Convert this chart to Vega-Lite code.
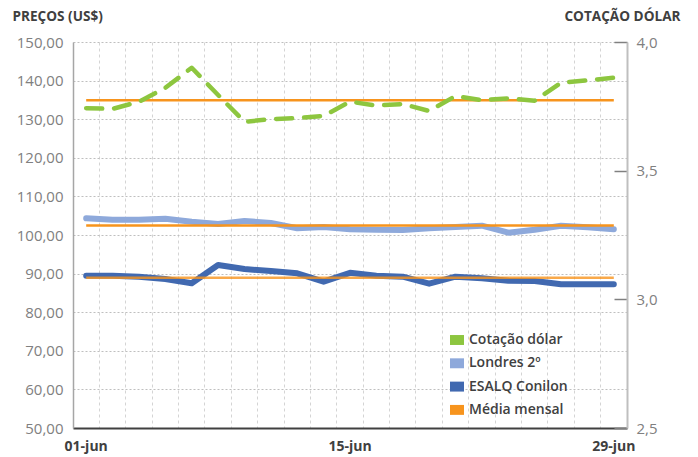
{
  "$schema": "https://vega.github.io/schema/vega-lite/v6.json",
  "width": 554,
  "height": 386,
  "autosize": "none",
  "padding": {"left": 73, "top": 42, "right": 71, "bottom": 29},
  "background": "white",
  "config": {"font": "Open Sans", "view": {"stroke": null}},
  "datasets": {
    "precos": [
      {"d": "01-jun", "serie": "Londres 2º", "v": 104.33},
      {"d": "04-jun", "serie": "Londres 2º", "v": 103.97},
      {"d": "05-jun", "serie": "Londres 2º", "v": 103.97},
      {"d": "06-jun", "serie": "Londres 2º", "v": 104.22},
      {"d": "07-jun", "serie": "Londres 2º", "v": 103.45},
      {"d": "08-jun", "serie": "Londres 2º", "v": 102.85},
      {"d": "11-jun", "serie": "Londres 2º", "v": 103.63},
      {"d": "12-jun", "serie": "Londres 2º", "v": 103.11},
      {"d": "13-jun", "serie": "Londres 2º", "v": 101.74},
      {"d": "14-jun", "serie": "Londres 2º", "v": 102.07},
      {"d": "15-jun", "serie": "Londres 2º", "v": 101.48},
      {"d": "18-jun", "serie": "Londres 2º", "v": 101.38},
      {"d": "19-jun", "serie": "Londres 2º", "v": 101.30},
      {"d": "20-jun", "serie": "Londres 2º", "v": 101.74},
      {"d": "21-jun", "serie": "Londres 2º", "v": 102.07},
      {"d": "22-jun", "serie": "Londres 2º", "v": 102.41},
      {"d": "25-jun", "serie": "Londres 2º", "v": 100.60},
      {"d": "26-jun", "serie": "Londres 2º", "v": 101.38},
      {"d": "27-jun", "serie": "Londres 2º", "v": 102.41},
      {"d": "28-jun", "serie": "Londres 2º", "v": 102.00},
      {"d": "29-jun", "serie": "Londres 2º", "v": 101.48},
      {"d": "01-jun", "serie": "ESALQ Conilon", "v": 89.46},
      {"d": "04-jun", "serie": "ESALQ Conilon", "v": 89.46},
      {"d": "05-jun", "serie": "ESALQ Conilon", "v": 89.20},
      {"d": "06-jun", "serie": "ESALQ Conilon", "v": 88.60},
      {"d": "07-jun", "serie": "ESALQ Conilon", "v": 87.49},
      {"d": "08-jun", "serie": "ESALQ Conilon", "v": 92.23},
      {"d": "11-jun", "serie": "ESALQ Conilon", "v": 91.19},
      {"d": "12-jun", "serie": "ESALQ Conilon", "v": 90.67},
      {"d": "13-jun", "serie": "ESALQ Conilon", "v": 90.07},
      {"d": "14-jun", "serie": "ESALQ Conilon", "v": 87.90},
      {"d": "15-jun", "serie": "ESALQ Conilon", "v": 90.20},
      {"d": "18-jun", "serie": "ESALQ Conilon", "v": 89.46},
      {"d": "19-jun", "serie": "ESALQ Conilon", "v": 89.20},
      {"d": "20-jun", "serie": "ESALQ Conilon", "v": 87.40},
      {"d": "21-jun", "serie": "ESALQ Conilon", "v": 89.20},
      {"d": "22-jun", "serie": "ESALQ Conilon", "v": 88.78},
      {"d": "25-jun", "serie": "ESALQ Conilon", "v": 88.17},
      {"d": "26-jun", "serie": "ESALQ Conilon", "v": 88.08},
      {"d": "27-jun", "serie": "ESALQ Conilon", "v": 87.22},
      {"d": "28-jun", "serie": "ESALQ Conilon", "v": 87.22},
      {"d": "29-jun", "serie": "ESALQ Conilon", "v": 87.22}
    ],
    "mediaLondres": [
      {"d": "01-jun", "serie": "Média mensal", "v": 102.45},
      {"d": "29-jun", "serie": "Média mensal", "v": 102.45}
    ],
    "mediaEsalq": [
      {"d": "01-jun", "serie": "Média mensal", "v": 88.95},
      {"d": "29-jun", "serie": "Média mensal", "v": 88.95}
    ],
    "dolar": [
      {"d": "01-jun", "serie": "Cotação dólar", "v": 3.743},
      {"d": "04-jun", "serie": "Cotação dólar", "v": 3.740},
      {"d": "05-jun", "serie": "Cotação dólar", "v": 3.768},
      {"d": "06-jun", "serie": "Cotação dólar", "v": 3.822},
      {"d": "07-jun", "serie": "Cotação dólar", "v": 3.900},
      {"d": "08-jun", "serie": "Cotação dólar", "v": 3.794},
      {"d": "11-jun", "serie": "Cotação dólar", "v": 3.690},
      {"d": "12-jun", "serie": "Cotação dólar", "v": 3.700},
      {"d": "13-jun", "serie": "Cotação dólar", "v": 3.704},
      {"d": "14-jun", "serie": "Cotação dólar", "v": 3.713},
      {"d": "15-jun", "serie": "Cotação dólar", "v": 3.768},
      {"d": "18-jun", "serie": "Cotação dólar", "v": 3.753},
      {"d": "19-jun", "serie": "Cotação dólar", "v": 3.759},
      {"d": "20-jun", "serie": "Cotação dólar", "v": 3.732},
      {"d": "21-jun", "serie": "Cotação dólar", "v": 3.790},
      {"d": "22-jun", "serie": "Cotação dólar", "v": 3.774},
      {"d": "25-jun", "serie": "Cotação dólar", "v": 3.781},
      {"d": "26-jun", "serie": "Cotação dólar", "v": 3.772},
      {"d": "27-jun", "serie": "Cotação dólar", "v": 3.842},
      {"d": "28-jun", "serie": "Cotação dólar", "v": 3.851},
      {"d": "29-jun", "serie": "Cotação dólar", "v": 3.861}
    ],
    "mediaDolar": [
      {"d": "01-jun", "serie": "Média mensal", "v": 3.774},
      {"d": "29-jun", "serie": "Média mensal", "v": 3.774}
    ]
  },
  "layer": [
    {
      "layer": [
        {
          "data": {"name": "precos"},
          "mark": {"type": "line", "strokeWidth": 6, "strokeCap": "round", "strokeJoin": "round"},
          "encoding": {
            "x": {
              "field": "d", "type": "ordinal",
              "scale": {"type": "band", "paddingInner": 0, "paddingOuter": 0,
                "domain": ["01-jun","04-jun","05-jun","06-jun","07-jun","08-jun","11-jun","12-jun","13-jun","14-jun","15-jun","18-jun","19-jun","20-jun","21-jun","22-jun","25-jun","26-jun","27-jun","28-jun","29-jun"]},
              "axis": {
                "title": null, "bandPosition": 0, "grid": true, "gridColor": "#D4D4D4", "gridDash": [3, 3], "gridWidth": 1,
                "ticks": false, "domainColor": "#404040", "domainWidth": 2,
                "labelAngle": 0, "labelOverlap": false,
                "labelExpr": "datum.value == '01-jun' || datum.value == '15-jun' || datum.value == '29-jun' ? datum.value : ''",
                "labelFont": "Open Sans", "labelFontSize": 14, "labelFontWeight": "bold", "labelColor": "#404040", "labelPadding": 11
              }
            },
            "y": {
              "field": "v", "type": "quantitative",
              "scale": {"domain": [50, 150], "nice": false, "zero": false},
              "axis": {
                "orient": "left", "title": "PREÇOS (US$)", "titleAngle": 0, "titleAlign": "left", "titleBaseline": "middle",
                "titleX": -61, "titleY": -26, "titleFont": "Open Sans", "titleFontSize": 13.6, "titleFontWeight": "bold", "titleColor": "#404040",
                "values": [50, 60, 70, 80, 90, 100, 110, 120, 130, 140, 150],
                "tickCount": 11,
                "labelExpr": "replace(format(datum.value, '.2f'), '.', ',')",
                "labelOverlap": false,
                "labelFont": "Open Sans", "labelFontSize": 15, "labelColor": "#808080", "labelPadding": 10,
                "ticks": false, "domainColor": "#A6A6A6", "domainWidth": 1.5,
                "grid": true, "gridColor": "#BFBFBF", "gridDash": [2, 2], "gridWidth": 1
              }
            },
            "color": {
              "field": "serie", "type": "nominal",
              "scale": {"domain": ["Cotação dólar", "Londres 2º", "ESALQ Conilon", "Média mensal"], "range": ["#8DC63F", "#8EA9DB", "#4169B0", "#F7941D"]},
              "legend": {
                "orient": "none", "legendX": 377, "legendY": 291, "title": null, "padding": 0,
                "symbolType": "M-1,-0.71H1V0.71H-1Z", "symbolSize": 196, "symbolStrokeWidth": 0,
                "labelFont": "Open Sans", "labelFontSize": 14, "labelFontWeight": 600, "labelColor": "#404040", "labelOffset": 5,
                "rowPadding": 9.3,
                "encode": {"symbols": {"update": {"fill": {"scale": "color", "field": "value"}, "stroke": {"value": "transparent"}, "opacity": {"value": 1}}}}
              }
            }
          }
        },
        {
          "data": {"name": "mediaLondres"},
          "mark": {"type": "line", "strokeWidth": 2.5},
          "encoding": {
            "x": {"field": "d", "type": "ordinal"},
            "y": {"field": "v", "type": "quantitative"},
            "color": {"field": "serie", "type": "nominal"}
          }
        },
        {
          "data": {"name": "mediaEsalq"},
          "mark": {"type": "line", "strokeWidth": 2.5, "opacity": 0.8},
          "encoding": {
            "x": {"field": "d", "type": "ordinal"},
            "y": {"field": "v", "type": "quantitative"},
            "color": {"field": "serie", "type": "nominal"}
          }
        }
      ]
    },
    {
      "layer": [
        {
          "data": {"name": "mediaDolar"},
          "mark": {"type": "line", "strokeWidth": 2.5},
          "encoding": {
            "x": {"field": "d", "type": "ordinal"},
            "y": {"field": "v", "type": "quantitative"},
            "color": {"field": "serie", "type": "nominal"}
          }
        },
        {
          "data": {"name": "dolar"},
          "mark": {"type": "line", "strokeWidth": 4.5, "strokeDash": [16, 12], "strokeCap": "round", "strokeJoin": "round"},
          "encoding": {
            "x": {"field": "d", "type": "ordinal"},
            "y": {
              "field": "v", "type": "quantitative",
              "scale": {"domain": [2.5, 4], "nice": false, "zero": false},
              "axis": {
                "orient": "right", "title": "COTAÇÃO DÓLAR", "titleAngle": 0, "titleAlign": "right", "titleBaseline": "middle",
                "titleX": 53, "titleY": -26, "titleFont": "Open Sans", "titleFontSize": 13.6, "titleFontWeight": "bold", "titleColor": "#404040",
                "values": [2.5, 3, 3.5, 4],
                "tickCount": 4,
                "labelExpr": "replace(format(datum.value, '.1f'), '.', ',')",
                "labelOverlap": false,
                "labelFont": "Open Sans", "labelFontSize": 15, "labelColor": "#808080", "labelPadding": 22,
                "ticks": true, "tickSize": -13, "tickColor": "#808080", "tickWidth": 1.5,
                "domainColor": "#BFBFBF", "domainWidth": 2, "grid": false
              }
            },
            "color": {"field": "serie", "type": "nominal"}
          }
        }
      ]
    }
  ],
  "resolve": {"scale": {"y": "independent"}}
}
